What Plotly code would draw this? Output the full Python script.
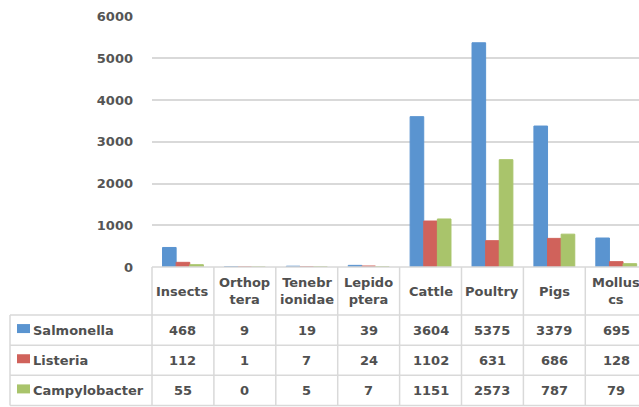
import plotly.graph_objects as go

# ---------------- data ----------------
categories = ["Insects", "Orthoptera", "Tenebrionidae", "Lepidoptera",
              "Cattle", "Poultry", "Pigs", "Molluscs"]
header_labels = ["Insects", "Orthop<br>tera", "Tenebr<br>ionidae", "Lepido<br>ptera",
                 "Cattle", "Poultry", "Pigs", "Mollus<br>cs"]
series_names = ["Salmonella", "Listeria", "Campylobacter"]
salmonella = [468, 9, 19, 39, 3604, 5375, 3379, 695]
listeria = [112, 1, 7, 24, 1102, 631, 686, 128]
campylobacter = [55, 0, 5, 7, 1151, 2573, 787, 79]
y_ticks = [0, 1000, 2000, 3000, 4000, 5000, 6000]

series_values = [salmonella, listeria, campylobacter]
colors = ["#5A94D0", "#D0625B", "#A9C46B"]

# ---------------- layout constants (pixels) ----------------
W, H = 639, 407
plot_left = 152
table_left = 10
col_w = 61.9
plot_top = 16.7
plot_bottom = 267
tbl_top = 267
tbl_bot = 405.5
hdr_px = 48
row_px = (tbl_bot - tbl_top - hdr_px) / 3.0

n = len(categories)
xs = list(range(n))
x_right = -0.5 + (W - plot_left) / col_w

x2_dom_left_px = 6
x2_left = -0.5 - (plot_left - x2_dom_left_px) / col_w
tbl_left_x = -0.5 - (plot_left - table_left) / col_w

y2_dom_top_px = 264
y2_dom_bot_px = 407
hdr_u = hdr_px / row_px
y2_top = -hdr_u - (tbl_top - y2_dom_top_px) / row_px
y2_bot = 3 + (y2_dom_bot_px - tbl_bot) / row_px

fig = go.Figure()

for name, vals, col in zip(series_names, series_values, colors):
    fig.add_trace(go.Bar(
        x=xs, y=vals, name=name,
        marker=dict(color=col, line=dict(color=col, width=1)),
        xaxis="x", yaxis="y", showlegend=False, cliponaxis=False,
    ))

fig.add_trace(go.Scatter(x=[0], y=[0], xaxis="x2", yaxis="y2",
                         mode="markers", marker=dict(opacity=0),
                         showlegend=False, hoverinfo="skip"))

font_fam = "DejaVu Sans"
txt_col = "#505050"
line_col = "#d9d9d9"
tfont = dict(family=font_fam, size=13, color=txt_col, weight="bold")
shapes = []
annotations = []

def hline(y, x0, x1):
    shapes.append(dict(type="line", xref="x2", yref="y2", x0=x0, x1=x1, y0=y, y1=y,
                       line=dict(color=line_col, width=1.5), layer="below"))

def vline(x, y0, y1):
    shapes.append(dict(type="line", xref="x2", yref="y2", x0=x, x1=x, y0=y0, y1=y1,
                       line=dict(color=line_col, width=1.5), layer="below"))

hline(-hdr_u, -0.5, x_right + 1)
for r in range(4):
    hline(r, tbl_left_x, x_right + 1)
for k in range(n + 1):
    vline(k - 0.5, -hdr_u, 3)
vline(tbl_left_x, 0, 3)

for i, lab in enumerate(header_labels):
    annotations.append(dict(xref="x2", yref="y2", x=i, y=-hdr_u / 2, text=lab,
                            showarrow=False, font=tfont,
                            xanchor="center", yanchor="middle"))

key_w = 13 / col_w
key_h = 9 / row_px
for r, (name, vals, col) in enumerate(zip(series_names, series_values, colors)):
    kx0 = tbl_left_x + 7 / col_w
    shapes.append(dict(type="rect", xref="x2", yref="y2",
                       x0=kx0, x1=kx0 + key_w,
                       y0=r + 0.5 - key_h / 2 - 0.05, y1=r + 0.5 + key_h / 2 - 0.05,
                       fillcolor=col, line=dict(width=0)))
    annotations.append(dict(xref="x2", yref="y2", x=kx0 + key_w + 1 / col_w, y=r + 0.5,
                            text=name, showarrow=False, xanchor="left", yanchor="middle",
                            font=tfont))
    for i, v in enumerate(vals):
        annotations.append(dict(xref="x2", yref="y2", x=i, y=r + 0.5, text=str(v),
                                showarrow=False, xanchor="center", yanchor="middle",
                                font=tfont))

fig.update_layout(
    width=W, height=H,
    margin=dict(l=0, r=0, t=0, b=0, autoexpand=False),
    paper_bgcolor="white", plot_bgcolor="rgba(0,0,0,0)",
    barmode="group", bargap=0.34, bargroupgap=0,
    xaxis=dict(domain=[plot_left / W, 1], range=[-0.5, x_right],
               showticklabels=False, showgrid=False, zeroline=False, showline=False,
               ticks="", anchor="y", automargin=False),
    yaxis=dict(domain=[(H - plot_bottom) / H, (H - plot_top) / H], range=[0, 6000],
               tickvals=y_ticks, ticktext=[str(t) for t in y_ticks],
               showgrid=True, gridcolor=line_col, gridwidth=1.5,
               zeroline=False, showline=False, ticks="",
               ticklabelstandoff=18, automargin=False,
               tickfont=dict(family=font_fam, size=13, color="#555555", weight="bold"),
               anchor="x"),
    xaxis2=dict(domain=[x2_dom_left_px / W, 1], range=[x2_left, x_right],
                visible=False, anchor="y2", automargin=False),
    yaxis2=dict(domain=[(H - y2_dom_bot_px) / H, (H - y2_dom_top_px) / H],
                range=[y2_bot, y2_top], visible=False, anchor="x2", automargin=False),
    shapes=shapes,
    annotations=annotations,
    showlegend=False,
)

fig.write_html("out.html")
